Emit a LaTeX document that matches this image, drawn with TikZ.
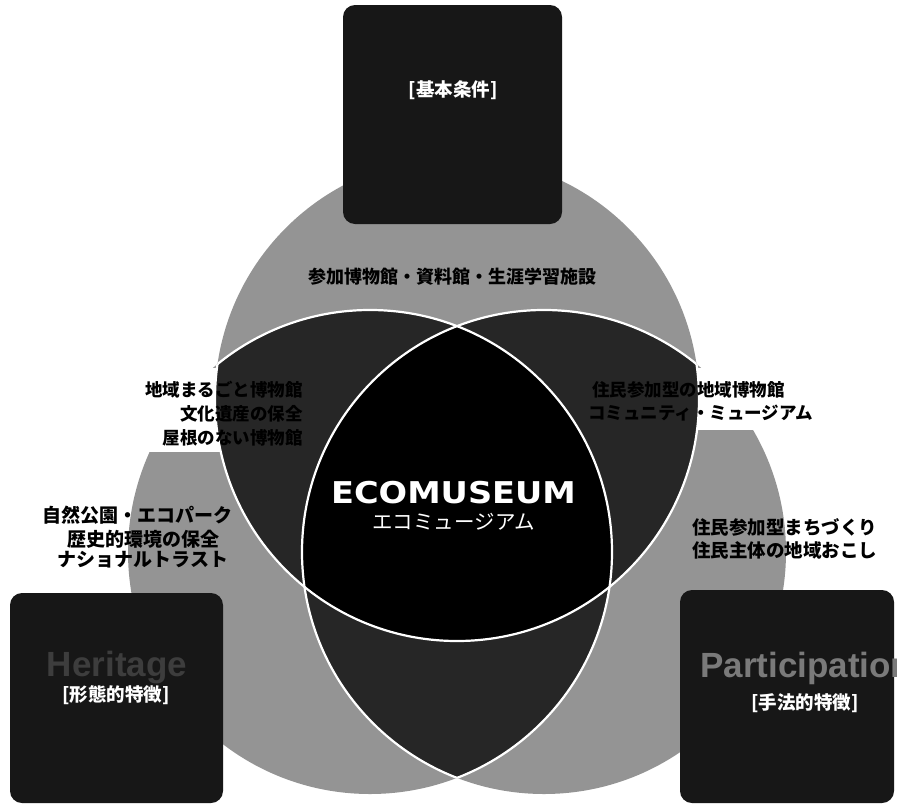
\documentclass[tikz,border=0pt]{standalone}
\usepackage{fontspec}
\setmainfont{Liberation Sans}
\newfontfamily\jp{Noto Sans CJK JP}
\newfontfamily\dvs{DejaVu Sans}
\begin{document}
\begin{tikzpicture}[x=1pt,y=-1pt,
  jpb/.style={font=\jp\bfseries\fontsize{#1}{#1}\selectfont, text=black, inner sep=0pt},
  jpb/.default=18,
  lbl/.style={font=\jp\bfseries\fontsize{18.5}{19}\selectfont, text=white, inner sep=0pt},
  boxbg/.style={fill=black!91, rounded corners=12pt, inner sep=0pt},
  wline/.style={draw=white, line width=2.2pt},
  ghostword/.style={inner sep=0pt, font=\bfseries\fontsize{35}{35}\selectfont}
  ]
\useasboundingbox (0,0) rectangle (897,806);
\fill[white] (0,0) rectangle (897,806);

\coordinate (cT) at (457,399);
\coordinate (cL) at (370,552);
\coordinate (cR) at (544,552);
\def\RR{242pt}

% grey union of the three circles
\fill[black!42] (cT) circle[radius=\RR] (cL) circle[radius=\RR] (cR) circle[radius=\RR];

% white knock-outs behind the petal captions
\fill[white] (135,368) rectangle (240,452);
\fill[white] (680,368) rectangle (825,430);

% pairwise overlaps (dark)
\begin{scope}
  \clip (cT) circle[radius=\RR];
  \fill[black!85] (cL) circle[radius=\RR] (cR) circle[radius=\RR];
\end{scope}
\begin{scope}
  \clip (cL) circle[radius=\RR];
  \fill[black!85] (cR) circle[radius=\RR];
\end{scope}
% triple overlap (black)
\begin{scope}
  \clip (cT) circle[radius=\RR];
  \clip (cL) circle[radius=\RR];
  \fill[black] (cR) circle[radius=\RR];
\end{scope}

% white outlines (inner arcs only)
\begin{scope}
  \clip (cL) circle[radius=\RR] (cR) circle[radius=\RR];
  \draw[wline] (cT) circle[radius=\RR];
\end{scope}
\begin{scope}
  \clip (cT) circle[radius=\RR] (cR) circle[radius=\RR];
  \draw[wline] (cL) circle[radius=\RR];
\end{scope}
\begin{scope}
  \clip (cT) circle[radius=\RR] (cL) circle[radius=\RR];
  \draw[wline] (cR) circle[radius=\RR];
\end{scope}

% boxes
\node[boxbg, minimum width=219pt, minimum height=219pt] (boxM) at (452.5,114.5) {};
\node[boxbg, minimum width=213pt, minimum height=210pt] (boxH) at (116.5,698) {};
\node[boxbg, minimum width=214pt, minimum height=213pt] (boxP) at (787,696.5) {};

% faint words in the boxes
\node[ghostword, text=black!76] (wH) at (117,668) {Heritage};
\node[ghostword, text=black!52, anchor=west] (wP) at (700,668) {Participation};

% box captions
\node[lbl] (lM) at (453,90) {[基本条件]};
\node[lbl] (lH) at (116,695) {[形態的特徴]};
\node[lbl] (lP) at (805,703) {[手法的特徴]};

% centre
\node[text=white, inner sep=0pt] (eco) at (453.5,492.5)
  {\scalebox{1.12}[1]{\dvs\bfseries\fontsize{30}{30}\selectfont ECOMUSEUM}};
\node[text=white, inner sep=0pt, font=\jp\fontsize{20.5}{21}\selectfont] (ecoj) at (453.5,522) {エコミュージアム};

% captions in the Venn regions
\node[jpb=18] (tTop) at (452,277) {参加博物館・資料館・生涯学習施設};

\node[jpb=17.5, anchor=east] (tL1) at (303,390) {地域まるごと博物館};
\node[jpb=17.5, anchor=east] (tL2) at (303,414) {文化遺産の保全};
\node[jpb=17.5, anchor=east] (tL3) at (303,438) {屋根のない博物館};

\node[jpb=17.5, anchor=west] (tR1) at (592,390) {住民参加型の地域博物館};
\node[jpb=17.5, anchor=west] (tR2) at (588,413) {コミュニティ・ミュージアム};

\node[jpb=19] (tB1) at (137,515) {自然公園・エコパーク};
\node[jpb=19] (tB2) at (143,539) {歴史的環境の保全};
\node[jpb=19] (tB3) at (143,560) {ナショナルトラスト};

\node[jpb=18.5, anchor=west] (tC1) at (692,527) {住民参加型まちづくり};
\node[jpb=18.5, anchor=west] (tC2) at (692,550) {住民主体の地域おこし};
\end{tikzpicture}
\end{document}
